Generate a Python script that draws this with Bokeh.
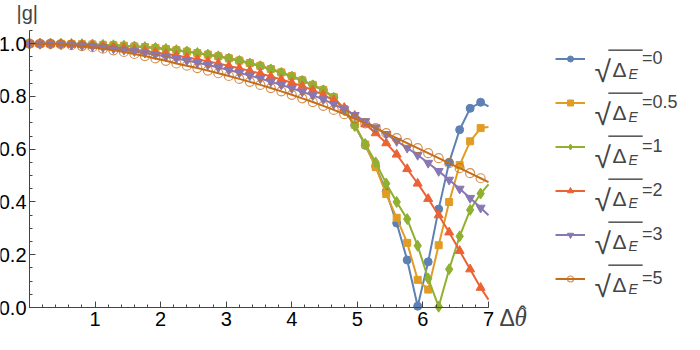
from bokeh.plotting import figure
from bokeh.models import (Range1d, FixedTicker, Legend, LegendItem, Label, PolyAnnotation,
                          LinearAxis)
from bokeh.embed import file_html
from bokeh.resources import INLINE

# ---- data ----
x = [0.00, 0.16, 0.32, 0.48, 0.64, 0.80, 0.96, 1.12, 1.28, 1.44, 1.60, 1.76, 1.92, 2.08, 2.24,
     2.40, 2.56, 2.72, 2.88, 3.04, 3.20, 3.36, 3.52, 3.68, 3.84, 4.00, 4.16, 4.32, 4.48, 4.64,
     4.80, 4.96, 5.12, 5.28, 5.44, 5.60, 5.76, 5.92, 6.08, 6.24, 6.40, 6.56, 6.72, 6.88]

g_0 = [1.000, 1.000, 1.000, 0.9995, 0.999, 0.998, 0.997, 0.9955, 0.994, 0.992, 0.9895, 0.987, 0.984, 0.980, 0.9755,
       0.970, 0.9645, 0.9585, 0.952, 0.9445, 0.936, 0.9265, 0.916, 0.904, 0.891, 0.877, 0.861, 0.844, 0.825, 0.797,
       0.752, 0.692, 0.615, 0.535, 0.440, 0.320, 0.180, 0.005, 0.173, 0.373, 0.550, 0.674, 0.755, 0.778]

g_05 = [1.000, 1.000, 1.000, 0.9995, 0.999, 0.998, 0.997, 0.9955, 0.994, 0.992, 0.9895, 0.987, 0.984, 0.980, 0.9755,
        0.970, 0.9645, 0.9585, 0.952, 0.9445, 0.936, 0.9265, 0.916, 0.904, 0.891, 0.877, 0.861, 0.844, 0.825, 0.797,
        0.752, 0.693, 0.618, 0.532, 0.430, 0.340, 0.245, 0.105, 0.068, 0.236, 0.400, 0.540, 0.630, 0.680]

g_1 = [1.000, 1.000, 1.000, 0.9995, 0.999, 0.998, 0.997, 0.9955, 0.994, 0.992, 0.9895, 0.987, 0.984, 0.980, 0.9755,
       0.970, 0.9645, 0.9585, 0.952, 0.9435, 0.9345, 0.925, 0.9145, 0.9025, 0.889, 0.875, 0.859, 0.842, 0.823, 0.795,
       0.748, 0.688, 0.620, 0.550, 0.470, 0.400, 0.335, 0.234, 0.110, 0.003, 0.145, 0.270, 0.370, 0.432]

g_2 = [1.000, 1.000, 0.9995, 0.9985, 0.997, 0.995, 0.9925, 0.9895, 0.986, 0.982, 0.9775, 0.9725, 0.967, 0.961, 0.955,
       0.948, 0.941, 0.933, 0.925, 0.916, 0.907, 0.897, 0.887, 0.876, 0.864, 0.852, 0.839, 0.824, 0.806, 0.785,
       0.757, 0.727, 0.695, 0.661, 0.623, 0.580, 0.525, 0.470, 0.412, 0.350, 0.285, 0.215, 0.145, 0.075]

g_3 = [1.000, 1.000, 0.9995, 0.998, 0.996, 0.9935, 0.990, 0.986, 0.9815, 0.9765, 0.971, 0.965, 0.9585, 0.9515, 0.944,
       0.936, 0.928, 0.9195, 0.910, 0.900, 0.890, 0.879, 0.868, 0.856, 0.844, 0.831, 0.818, 0.804, 0.789, 0.771,
       0.751, 0.729, 0.706, 0.682, 0.657, 0.631, 0.605, 0.578, 0.548, 0.517, 0.484, 0.450, 0.415, 0.378]

g_5 = [1.000, 0.9998, 0.999, 0.997, 0.9945, 0.991, 0.9865, 0.981, 0.975, 0.9685, 0.961, 0.953, 0.944, 0.935, 0.925,
       0.9165, 0.9075, 0.898, 0.888, 0.8775, 0.8665, 0.8553, 0.8438, 0.8318, 0.8193, 0.8063, 0.7928, 0.7788, 0.7643, 0.749,
       0.733, 0.716, 0.698, 0.680, 0.661, 0.642, 0.623, 0.604, 0.585, 0.566, 0.547, 0.528, 0.509, 0.490]

# where each curve leaves the plot at the right edge (x = 7)
x_edge = 7.0
edge_values = [0.762, 0.684, 0.467, 0.030, 0.350, 0.475]

series_labels = ["=0", "=0.5", "=1", "=2", "=3", "=5"]
series_values = [g_0, g_05, g_1, g_2, g_3, g_5]

y_tick_values = [0.0, 0.2, 0.4, 0.6, 0.8, 1.0]
y_tick_labels = ["0.0", "0.2", "0.4", "0.6", "0.8", "1.0"]
x_tick_values = [1, 2, 3, 4, 5, 6, 7]
x_tick_labels = ["1", "2", "3", "4", "5", "6", "7"]

# ---- layout (page px) ----
W, H = 684, 334
FX0, FX1 = 37 - 8, 496 - 8        # x=0 and x=7 in canvas px
FY0, FY1 = 315 - 8, 38 - 8        # y=0 and y=1.05 in canvas px (from top)
sx = (FX1 - FX0) / 7.0
sy = (FY0 - FY1) / 1.05
x_range = Range1d(-FX0 / sx, 7.0 + (W - FX1) / sx)
y_range = Range1d(-(H - FY0) / sy, 1.05 + FY1 / sy)

colors = ["#5E81B5", "#E19C24", "#8FB032", "#EB6235", "#8778B3", "#C56E1A"]
markers = ["circle", "square", "diamond", "triangle", "inverted_triangle", "circle"]
msizes = [8, 7, 11, 9, 9, 9]
FONT = "Liberation Sans"

p = figure(width=W, height=H, x_range=x_range, y_range=y_range,
           x_axis_type=None, y_axis_type=None,
           output_backend="svg", toolbar_location=None,
           min_border_left=0, min_border_right=0, min_border_top=0, min_border_bottom=0)
p.outline_line_color = None
p.xgrid.grid_line_color = None
p.ygrid.grid_line_color = None

xaxis = LinearAxis(fixed_location=0, bounds=(0, 7),
                   ticker=FixedTicker(ticks=x_tick_values, minor_ticks=[i * 0.2 for i in range(36)]),
                   major_label_overrides={v: s for v, s in zip(x_tick_values, x_tick_labels)},
                   major_label_standoff=4)
yaxis = LinearAxis(fixed_location=0, bounds=(0, 1.05),
                   ticker=FixedTicker(ticks=y_tick_values, minor_ticks=[i * 0.05 for i in range(22)]),
                   major_label_overrides={v: s for v, s in zip(y_tick_values, y_tick_labels)},
                   major_label_standoff=3)
for ax in (xaxis, yaxis):
    ax.axis_line_color = "#444444"
    ax.major_tick_line_color = "#444444"
    ax.minor_tick_line_color = "#444444"
    ax.major_tick_in = 6
    ax.major_tick_out = 0
    ax.minor_tick_in = 3
    ax.minor_tick_out = 0
    ax.major_label_text_font = FONT
    ax.major_label_text_font_size = "20px"
    ax.major_label_text_color = "black"
p.add_layout(xaxis, "below")
p.add_layout(yaxis, "left")

items = []
for vals, edge, lab, c, m, s in zip(series_values, edge_values, series_labels, colors, markers, msizes):
    lr = p.line(x + [x_edge], vals + [edge], line_color=c, line_width=2)
    if lab == "=5":
        sr = p.scatter(x, vals, marker=m, size=s, line_color=c, line_alpha=0.75, line_width=1.2, fill_alpha=0)
    else:
        sr = p.scatter(x, vals, marker=m, size=s, line_color=c, fill_color=c)
    items.append(LegendItem(label=lab, renderers=[lr, sr]))

legend = Legend(items=items, location=(563 - 8, H - (296.7 - 8)), glyph_width=30, glyph_height=15,
                label_height=20, spacing=23, label_standoff=57, padding=0, margin=0,
                border_line_color=None, background_fill_alpha=0,
                label_text_font=FONT, label_text_font_size="18px", label_text_baseline="middle")
p.add_layout(legend)

def sc(ax_, ay_):
    """page px -> screen coords relative to frame bottom-left"""
    return ax_ - 8, H - (ay_ - 8)

# sqrt(Delta_E) part of legend labels
for i in range(6):
    c = 71.7 + 43 * i          # entry centre (page px)
    lx, ly = sc(602, c + 7)
    p.add_layout(Label(x=lx, y=ly, x_units="screen", y_units="screen", text="√",
                       text_font=FONT, text_font_size="30px", text_baseline="alphabetic"))
    lx, ly = sc(620, c + 5)
    p.add_layout(Label(x=lx, y=ly, x_units="screen", y_units="screen", text="Δ",
                       text_font=FONT, text_font_size="21px", text_baseline="alphabetic"))
    lx, ly = sc(636, c + 10)
    p.add_layout(Label(x=lx, y=ly, x_units="screen", y_units="screen", text="E",
                       text_font=FONT, text_font_size="14px", text_font_style="italic",
                       text_baseline="alphabetic"))
    ox0, oy = sc(616, c - 14.5)
    ox1, _ = sc(650, c - 14.5)
    p.add_layout(PolyAnnotation(xs=[ox0, ox1, ox1, ox0], ys=[oy, oy, oy - 0.8, oy - 0.8],
                                xs_units="screen", ys_units="screen",
                                line_color="black", line_width=0.8, fill_color="black", fill_alpha=1))

# axis labels
lx, ly = sc(24, 20)
p.add_layout(Label(x=lx, y=ly, x_units="screen", y_units="screen", text="|g|",
                   text_font=FONT, text_font_size="20px", text_baseline="middle"))
lx, ly = sc(507, 325)
p.add_layout(Label(x=lx, y=ly, x_units="screen", y_units="screen", text="Δ",
                   text_font=FONT, text_font_size="23px", text_baseline="alphabetic"))
lx, ly = sc(522, 325)
p.add_layout(Label(x=lx, y=ly, x_units="screen", y_units="screen", text="θ",
                   text_font="Liberation Serif", text_font_size="25px", text_font_style="italic",
                   text_baseline="alphabetic"))
lx, ly = sc(526, 321)
p.add_layout(Label(x=lx, y=ly, x_units="screen", y_units="screen", text="ˆ",
                   text_font="Liberation Serif", text_font_size="24px",
                   text_baseline="alphabetic"))

open("out.html", "w").write(file_html(p, INLINE))
